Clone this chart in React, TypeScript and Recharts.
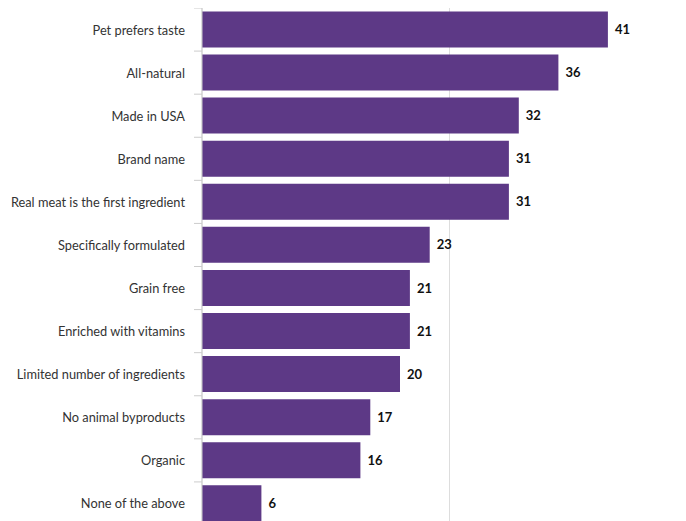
import { BarChart, Bar, XAxis, YAxis, CartesianGrid, LabelList } from "recharts";

const categories = [
  "Pet prefers taste",
  "All-natural",
  "Made in USA",
  "Brand name",
  "Real meat is the first ingredient",
  "Specifically formulated",
  "Grain free",
  "Enriched with vitamins",
  "Limited number of ingredients",
  "No animal byproducts",
  "Organic",
  "None of the above",
];
const values = [41, 36, 32, 31, 31, 23, 21, 21, 20, 17, 16, 6];
const xTicks = [0, 25, 50];

const data = categories.map((name, i) => ({ name, value: values[i] }));

const CHART_H = 517;
const HALF_STEP = CHART_H / categories.length / 2;

function CategoryTick(props: any) {
  const { x, y, payload } = props;
  return (
    <g>
      <line x1={x - 8} x2={x} y1={y - HALF_STEP} y2={y - HALF_STEP} stroke="#ccc" />
      <text
        x={x - 17}
        y={y}
        textAnchor="end"
        dominantBaseline="central"
        fill="#333"
        fontSize={12.8}
        fontFamily="Lato, sans-serif"
      >
        {payload.value}
      </text>
    </g>
  );
}

export default function App() {
  return (
    <div style={{ width: 678, height: 513, overflow: "hidden" }}>
      <BarChart
        width={689}
        height={CHART_H}
        data={data}
        layout="vertical"
        margin={{ top: 0, right: 0, bottom: 0, left: 0 }}
        barCategoryGap="8%"
      >
        <CartesianGrid horizontal={false} stroke="#ddd" />
        <XAxis type="number" domain={[0, 50]} ticks={xTicks} hide />
        <YAxis
          type="category"
          dataKey="name"
          width={194}
          tickSize={0}
          tickMargin={0}
          tickLine={false}
          axisLine={{ stroke: "#ccc" }}
          tick={<CategoryTick />}
          interval={0}
        />
        <Bar dataKey="value" fill="#5d3986" isAnimationActive={false}>
          <LabelList
            dataKey="value"
            position="right"
            offset={7}
            fill="#111"
            fontSize={13}
            fontWeight="bold"
            fontFamily="Lato, sans-serif"
          />
        </Bar>
      </BarChart>
    </div>
  );
}
